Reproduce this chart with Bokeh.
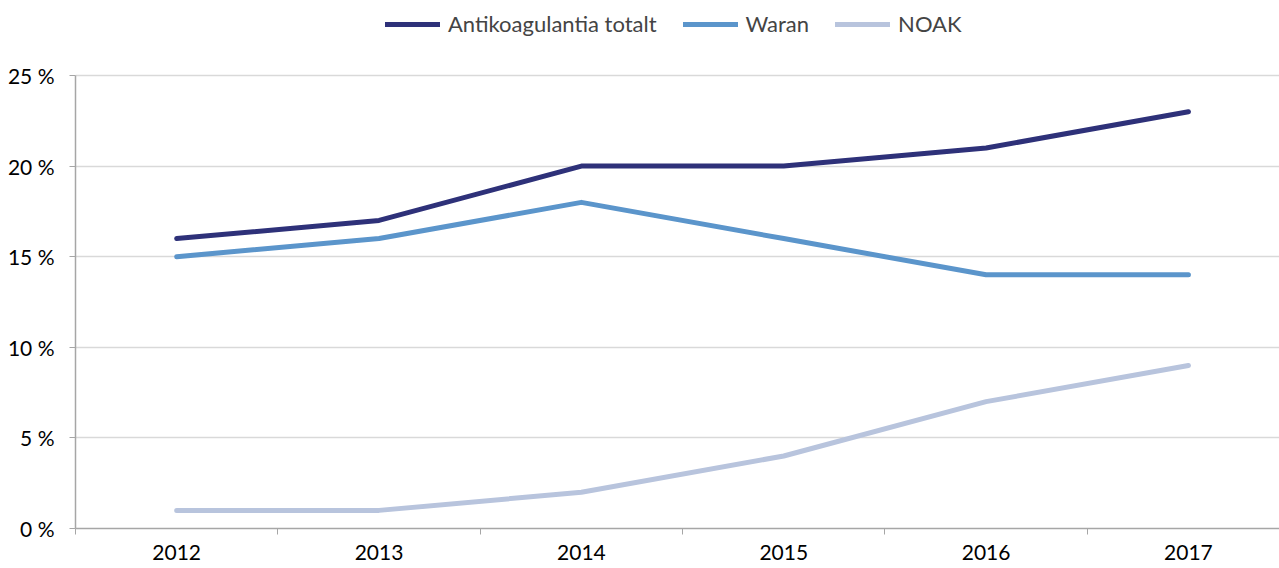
from bokeh.plotting import figure
from bokeh.models import FixedTicker, Legend, LegendItem, CustomJSTickFormatter, Range1d
from bokeh.embed import file_html
from bokeh.resources import INLINE

years = ["2012", "2013", "2014", "2015", "2016", "2017"]
antikoag = [16, 17, 20, 20, 21, 23]
waran = [15, 16, 18, 16, 14, 14]
noak = [1, 1, 2, 4, 7, 9]
series_names = ["Antikoagulantia totalt", "Waran", "NOAK"]
colors = ["#2E3179", "#5B95CB", "#B8C4DD"]
y_ticks = [0, 5, 10, 15, 20, 25]

FONT = "Lato"
x = list(range(len(years)))

FRAME_H = 528
FRAME_W = 1204
y_top = 25 * FRAME_H / 453.0

p = figure(frame_width=FRAME_W, frame_height=FRAME_H, output_backend="svg", toolbar_location=None,
           x_range=Range1d(-0.5, 5.45), y_range=Range1d(0, y_top),
           min_border_left=75, min_border_right=0, min_border_top=0, min_border_bottom=40)
p.outline_line_color = None
p.background_fill_color = "white"

renderers = []
for vals, c in zip([antikoag, waran, noak], colors):
    r = p.line(x, vals, line_color=c, line_width=5, line_cap="round", line_join="round")
    renderers.append(r)

# x axis
p.xaxis.ticker = FixedTicker(ticks=x, minor_ticks=[i - 0.5 for i in range(len(years))])
p.xaxis.formatter = CustomJSTickFormatter(args=dict(labels=years),
                                          code="return labels[Math.round(tick)] || ''")
p.xaxis.major_tick_line_color = None
p.xaxis.minor_tick_out = 6
p.xaxis.minor_tick_in = 0
p.xaxis.minor_tick_line_color = "#A6A6A6"
p.xaxis.axis_line_color = "#A6A6A6"
p.xaxis.axis_line_width = 1.5
p.xaxis.major_label_text_font = FONT
p.xaxis.major_label_text_font_size = "21px"
p.xaxis.major_label_text_color = "#000000"
p.xaxis.major_label_standoff = 10

p.xgrid.grid_line_color = None

# y axis
p.yaxis.ticker = FixedTicker(ticks=y_ticks)
p.yaxis.bounds = (0, 25)
p.yaxis.formatter = CustomJSTickFormatter(code="return tick + ' %'")
p.yaxis.major_tick_out = 6
p.yaxis.major_tick_in = 0
p.yaxis.minor_tick_line_color = None
p.yaxis.major_tick_line_color = "#A6A6A6"
p.yaxis.axis_line_color = "#A6A6A6"
p.yaxis.axis_line_width = 1.5
p.yaxis.major_label_text_font = FONT
p.yaxis.major_label_text_font_size = "21px"
p.yaxis.major_label_text_color = "#000000"
p.yaxis.major_label_standoff = 15
p.ygrid.grid_line_color = "#D9D9D9"
p.ygrid.grid_line_width = 1.5

legend = Legend(items=[LegendItem(label=n, renderers=[r]) for n, r in zip(series_names, renderers)],
                orientation="horizontal", location=(310, 491),
                label_text_font=FONT, label_text_font_size="22px",
                glyph_width=55, label_standoff=8, spacing=26,
                border_line_color=None, background_fill_alpha=0,
                margin=0, padding=0)
p.add_layout(legend)

open("out.html", "w").write(file_html(p, INLINE))
